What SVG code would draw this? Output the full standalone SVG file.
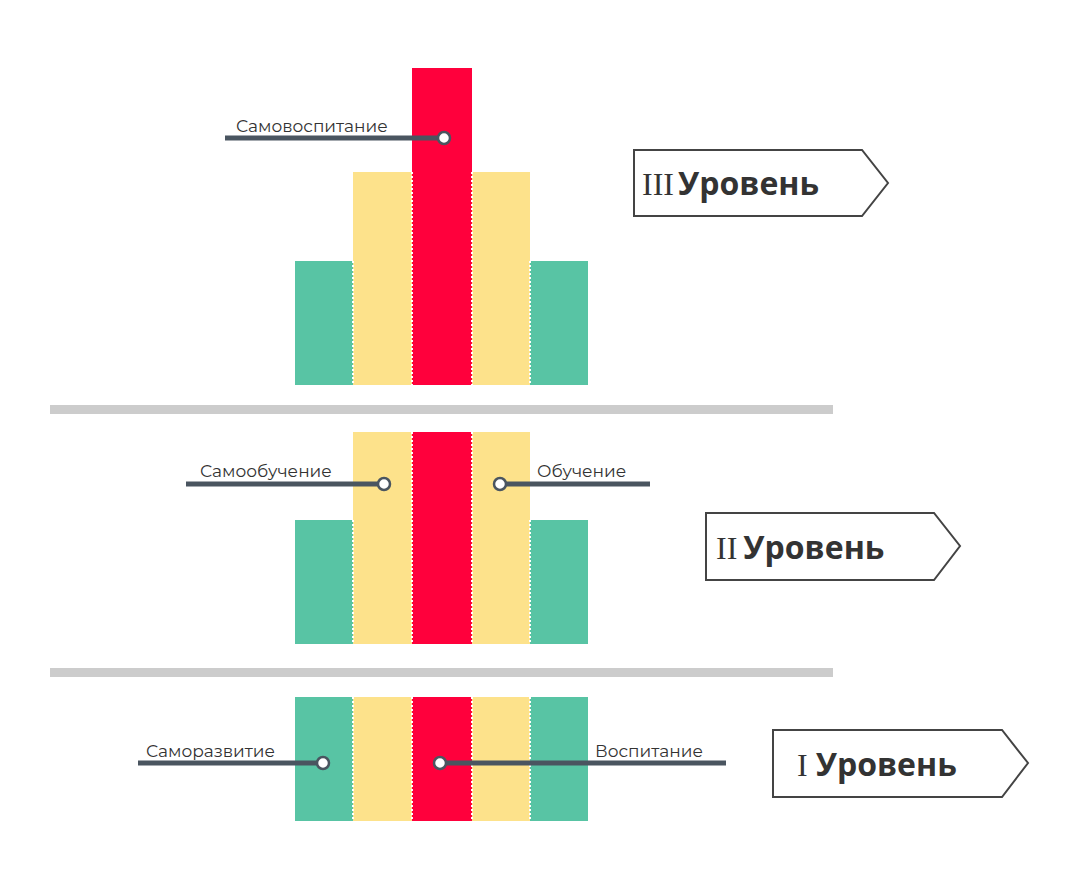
<svg xmlns="http://www.w3.org/2000/svg" width="1079" height="869" viewBox="0 0 1079 869">
<style>
.g{fill:#58c4a4}.y{fill:#fde28b}.r{fill:#ff003c}
.sep{stroke:#fff;stroke-width:2;stroke-dasharray:2 2}
.bar{fill:#cccccc}
.ln{stroke:#4a5560;stroke-width:5}
.dot{fill:#fff;stroke:#4a5560;stroke-width:2.5}
.lb{font-family:Montserrat,"Noto Sans","Liberation Sans",sans-serif;font-size:17px;fill:#333}
.tag{fill:#fff;stroke:#444;stroke-width:2}
.tt{font-family:"Open Sans","Liberation Sans",sans-serif;font-weight:bold;font-size:32px;fill:#333}
.rn{font-family:"Liberation Serif",serif;font-size:32px;fill:#333}
</style>
<rect width="1079" height="869" fill="#fff"/>
<g id="level3">
<rect class="g" x="295" y="261" width="58" height="124"/>
<rect class="y" x="353" y="172" width="59" height="213"/>
<rect class="r" x="412" y="68" width="60" height="317"/>
<rect class="y" x="472" y="172" width="58" height="213"/>
<rect class="g" x="530" y="261" width="58" height="124"/>
<line class="sep" x1="353" y1="261" x2="353" y2="385"/><line class="sep" x1="412" y1="172" x2="412" y2="385"/><line class="sep" x1="472" y1="172" x2="472" y2="385"/><line class="sep" x1="530" y1="261" x2="530" y2="385"/>
</g>
<rect class="bar" x="50" y="405" width="783" height="9"/>
<g id="level2">
<rect class="g" x="295" y="520" width="58" height="124"/>
<rect class="y" x="353" y="432" width="59" height="212"/>
<rect class="r" x="412" y="432" width="60" height="212"/>
<rect class="y" x="472" y="432" width="58" height="212"/>
<rect class="g" x="530" y="520" width="58" height="124"/>
<line class="sep" x1="353" y1="520" x2="353" y2="644"/><line class="sep" x1="412" y1="432" x2="412" y2="644"/><line class="sep" x1="472" y1="432" x2="472" y2="644"/><line class="sep" x1="530" y1="520" x2="530" y2="644"/>
</g>
<rect class="bar" x="50" y="668" width="783" height="9"/>
<g id="level1">
<rect class="g" x="295" y="697" width="58" height="124"/>
<rect class="y" x="353" y="697" width="59" height="124"/>
<rect class="r" x="412" y="697" width="60" height="124"/>
<rect class="y" x="472" y="697" width="58" height="124"/>
<rect class="g" x="530" y="697" width="58" height="124"/>
<line class="sep" x1="353" y1="697" x2="353" y2="821"/><line class="sep" x1="412" y1="697" x2="412" y2="821"/><line class="sep" x1="472" y1="697" x2="472" y2="821"/><line class="sep" x1="530" y1="697" x2="530" y2="821"/>
</g>
<g id="connectors">
<line class="ln" x1="225" y1="138" x2="444" y2="138"/><circle class="dot" cx="444" cy="138" r="6"/>
<line class="ln" x1="186" y1="484" x2="384" y2="484"/><circle class="dot" cx="384" cy="484" r="6"/>
<line class="ln" x1="500" y1="484" x2="650" y2="484"/><circle class="dot" cx="500" cy="484" r="6"/>
<line class="ln" x1="138" y1="763" x2="323" y2="763"/><circle class="dot" cx="323" cy="763" r="6"/>
<line class="ln" x1="440" y1="763" x2="726" y2="763"/><circle class="dot" cx="440" cy="763" r="6"/>
</g>
<g id="labels">
<text class="lb" x="236" y="132">Самовоспитание</text>
<text class="lb" x="200" y="477">Самообучение</text>
<text class="lb" x="537" y="477">Обучение</text>
<text class="lb" x="146" y="757">Саморазвитие</text>
<text class="lb" x="595" y="757">Воспитание</text>
</g>
<g id="tag3"><path class="tag" d="M634 150H862L888 183L862 216H634Z"/><text x="642" y="195"><tspan class="rn">III</tspan><tspan class="tt" dx="4">Уровень</tspan></text></g>
<g id="tag2"><path class="tag" d="M706 513H934L960 546L934 580H706Z"/><text x="716" y="559"><tspan class="rn">II</tspan><tspan class="tt" dx="6">Уровень</tspan></text></g>
<g id="tag1"><path class="tag" d="M773 730H1002L1028 763L1002 797H773Z"/><text x="797" y="776"><tspan class="rn">I</tspan><tspan class="tt" dx="8">Уровень</tspan></text></g>
</svg>
